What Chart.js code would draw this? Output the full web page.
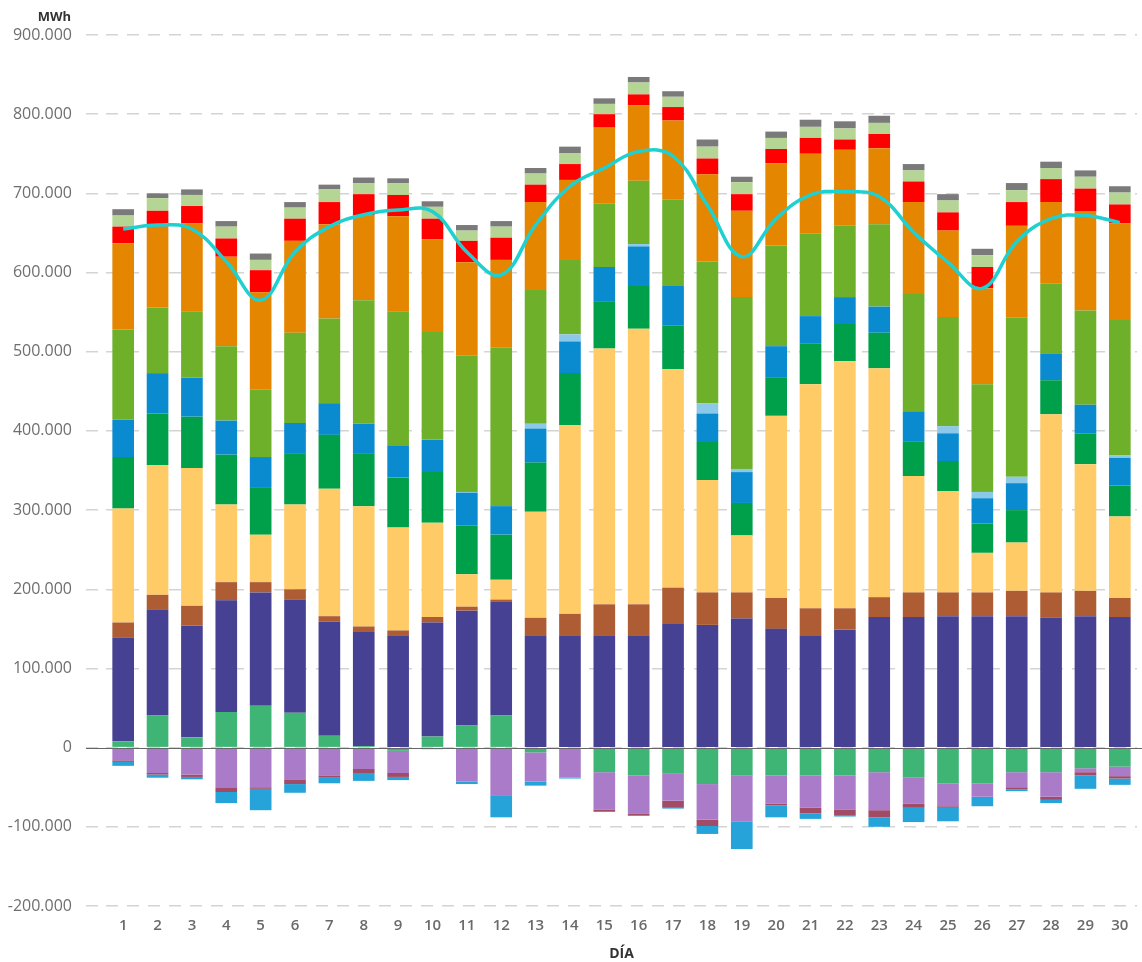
<!DOCTYPE html>
<html lang="es">
<head>
<meta charset="UTF-8">
<title>Balance eléctrico diario</title>
<script src="https://cdn.jsdelivr.net/npm/chart.js"></script>
<style>
  html, body { margin: 0; padding: 0; background: #fff; }
  #wrap { width: 1142px; height: 962px; position: relative; }
</style>
</head>
<body>
<div id="wrap"><canvas id="balance"></canvas></div>
<script>
// valores en miles de MWh
const dias = ['1','2','3','4','5','6','7','8','9','10','11','12','13','14','15','16','17','18','19','20','21','22','23','24','25','26','27','28','29','30'];

const saldoIntercambios = [8,41,13,45,53,44,15,2,-4,14,28,41,-6,0,-31,-35,-33,-46,-35,-35,-35,-35,-31,-38,-45,-45,-31,-31,-26,-24];
const nuclear        = [131,133,141,141,143,143,144,144,142,144,145,143,142,142,142,142,156,155,163,150,141,149,165,165,166,166,166,164,166,165];
const carbon         = [19,19,25,23,13,13,7,7,6,7,5,3,22,27,39,39,46,41,33,39,35,27,25,31,30,30,32,32,32,24];
const cicloCombinado = [144,164,174,98,60,107,161,152,130,119,41,25,134,238,323,348,276,142,72,230,283,312,289,147,128,50,61,225,160,103];
const cogeneracion   = [65,65,65,63,59,64,68,66,63,64,62,57,62,66,59,54,55,48,41,48,51,47,45,44,38,37,41,43,39,39];
const hidraulica     = [47,51,49,43,39,39,40,38,40,41,41,36,43,40,44,50,50,36,39,40,35,34,33,37,35,32,34,34,36,35];
const turbinacion    = [0,0,0,0,0,0,0,0,0,0,1,0,6,9,0,3,0,13,4,0,0,0,0,0,9,8,8,0,0,3];
const eolica         = [114,83,84,94,85,114,107,156,170,136,172,200,169,94,80,80,109,179,217,127,104,90,104,149,138,136,201,88,119,171];
const solarFV        = [109,102,111,113,123,116,119,107,120,117,118,111,111,101,96,95,100,110,109,104,101,96,96,116,109,121,116,103,125,122];
const solarTermica   = [21,20,22,23,28,28,28,27,27,26,27,28,22,20,17,14,17,20,21,18,20,13,18,26,23,27,30,29,29,24];
const otrasRenov     = [14,16,14,15,13,14,16,14,15,15,13,14,14,14,13,15,13,15,15,14,14,14,14,14,15,15,15,14,15,15];
const residuos       = [8,6,7,7,8,7,6,7,6,7,7,7,7,8,7,7,7,9,7,8,9,9,9,8,8,8,9,8,8,8];

const consumoBombeo  = [-16,-32,-34,-51,-50,-40,-35,-27,-28,-2,-43,-60,-37,-38,-47,-48,-34,-45,-58,-36,-41,-43,-48,-33,-29,-17,-19,-31,-5,-12];
const enlaceBaleares = [-2,-2,-3,-5,-2,-6,-3,-5,-5,0,0,0,0,0,-3,-3,-9,-8,0,-2,-7,-8,-9,-5,-2,0,-3,-4,-4,-3];
const cargaBaterias  = [-5,-4,-3,-14,-27,-11,-7,-10,-4,0,-3,-28,-5,-1,0,0,-1,-10,-35,-15,-7,-1,-12,-18,-17,-12,-2,-4,-17,-8];

const demanda        = [655,660,655,614,565,626,658,673,679,677,626,597,660,709,732,753,747,685,620,668,698,702,696,651,613,580,639,668,672,663];

const yTicks = [-200000,-100000,0,100000,200000,300000,400000,500000,600000,700000,800000,900000];

const mwh = arr => arr.map(v => v * 1000);

function fmt(v) {
  const s = Math.abs(v).toString().replace(/\B(?=(\d{3})+(?!\d))/g, '.');
  return (v < 0 ? '-' : '') + s;
}

const series = [
  ['Saldo intercambios internacionales', saldoIntercambios, '#3eb475'],
  ['Nuclear', nuclear, '#474193'],
  ['Carbón', carbon, '#ad5c33'],
  ['Ciclo combinado', cicloCombinado, '#ffcb67'],
  ['Cogeneración', cogeneracion, '#00a04b'],
  ['Hidráulica', hidraulica, '#0a8bd0'],
  ['Turbinación bombeo', turbinacion, '#8cc8e8'],
  ['Eólica', eolica, '#6eb02a'],
  ['Solar fotovoltaica', solarFV, '#e58600'],
  ['Solar térmica', solarTermica, '#ff0000'],
  ['Otras renovables', otrasRenov, '#b5d594'],
  ['Residuos', residuos, '#7a7a7a'],
  ['Consumo bombeo', consumoBombeo, '#a97bc9'],
  ['Enlace Península-Baleares', enlaceBaleares, '#a24b66'],
  ['Carga baterías', cargaBaterias, '#26a4d9']
];

const datasets = [{
  type: 'line',
  label: 'Demanda',
  data: mwh(demanda),
  borderColor: '#1fd0d0',
  borderWidth: 3.5,
  pointRadius: 0,
  tension: 0.4,
  fill: false,
  stack: 'demanda',
  order: -1
}];
series.forEach(([label, values, color]) => {
  datasets.push({
    type: 'bar',
    label: label,
    data: mwh(values),
    backgroundColor: color,
    borderWidth: 0,
    stack: 'gen',
    barPercentage: 0.63,
    categoryPercentage: 1
  });
});

// línea del cero y unidad
const extras = {
  id: 'extras',
  afterDatasetsDraw(chart) {
    const { ctx, chartArea, scales } = chart;
    const y0 = Math.round(scales.y.getPixelForValue(0)) + 0.5;
    ctx.save();
    ctx.strokeStyle = '#666';
    ctx.lineWidth = 1;
    ctx.beginPath();
    ctx.moveTo(chartArea.left - 20, y0);
    ctx.lineTo(chartArea.right + 5, y0);
    ctx.stroke();
    ctx.fillStyle = '#333';
    ctx.font = 'bold 13px "Open Sans"';
    ctx.textAlign = 'right';
    ctx.textBaseline = 'middle';
    ctx.fillText('MWh', chartArea.left - 35, 17);
    ctx.restore();
  }
};

new Chart(document.getElementById('balance'), {
  data: { labels: dias, datasets: datasets },
  options: {
    responsive: true,
    maintainAspectRatio: false,
    animation: false,
    layout: { padding: { top: 35, right: 5, left: 0, bottom: 0 } },
    plugins: {
      legend: { display: false },
      tooltip: { enabled: true }
    },
    scales: {
      x: {
        stacked: true,
        afterFit: s => { s.height = 56; },
        grid: { display: false, drawTicks: false },
        border: { display: false },
        ticks: {
          color: '#6a6a6a',
          padding: 11,
          font: { family: 'Open Sans', size: 15, weight: '600' }
        },
        title: {
          display: true,
          text: 'DÍA',
          color: '#333',
          font: { family: 'Open Sans', size: 14, weight: 'bold' },
          padding: { top: 0, bottom: 0 }
        }
      },
      y: {
        stacked: true,
        min: -200000,
        max: 900000,
        afterBuildTicks: s => { s.ticks = yTicks.map(v => ({ value: v })); },
        afterFit: s => { s.width = 106; },
        grid: {
          color: '#d4d4d4',
          lineWidth: 1.5,
          drawTicks: true,
          tickLength: 20,
          tickColor: '#d4d4d4',
          tickWidth: 1.5,
          tickBorderDash: [12, 9]
        },
        border: { display: false, dash: [12, 9] },
        ticks: {
          color: '#6e6e6e',
          padding: 14,
          font: { family: 'Open Sans', size: 16 },
          callback: v => fmt(v)
        }
      }
    }
  },
  plugins: [extras]
});
</script>
</body>
</html>
